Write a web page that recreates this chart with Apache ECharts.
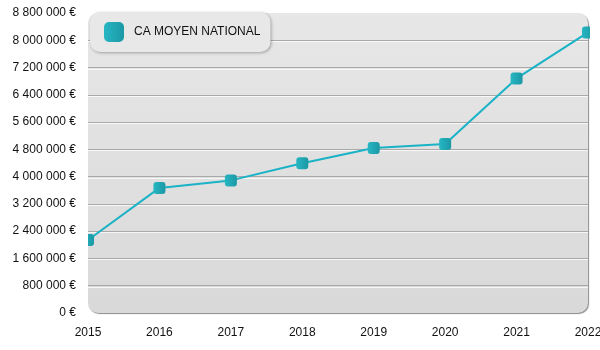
<!DOCTYPE html>
<html>
<head>
<meta charset="utf-8">
<script src="https://cdn.jsdelivr.net/npm/echarts@6/dist/echarts.min.js"></script>
<style>
  html, body { margin: 0; padding: 0; background: #ffffff; }
  #chart { width: 600px; height: 350px; }
</style>
</head>
<body>
<div id="chart"></div>
<script>
// Annual average turnover (national), in euros
const years = ['2015', '2016', '2017', '2018', '2019', '2020', '2021', '2022'];
const caMoyen = [2140000, 3670000, 3890000, 4390000, 4840000, 4960000, 6880000, 8230000];
const seriesName = 'CA MOYEN NATIONAL';

// Value axis range
const yMin = 0;
const yMax = 8800000;
const yStep = 800000;

const FONT = "'Liberation Sans', Arial, sans-serif";

function euro(v) {
  return String(v).replace(/\B(?=(\d{3})+(?!\d))/g, ' ') + ' €';
}

const markerFill = new echarts.graphic.LinearGradient(0, 0, 1, 0, [
  { offset: 0, color: '#27b6c3' },
  { offset: 1, color: '#1b98a5' }
]);

// Hide the split lines at the top and bottom edges of the plot
const tickCount = Math.round((yMax - yMin) / yStep) + 1;
const splitColors = [];
for (let i = 0; i < tickCount; i++) {
  splitColors.push(i === 0 || i === tickCount - 1 ? 'rgba(0,0,0,0)' : '#a9a9a9');
}

const chart = echarts.init(document.getElementById('chart'), null, { renderer: 'canvas' });

chart.setOption({
  animation: false,
  backgroundColor: '#ffffff',
  textStyle: { fontFamily: FONT },
  grid: { left: 88, right: 12, top: 13, bottom: 37, containLabel: false, outerBoundsMode: 'none' },
  legend: {
    left: 90,
    top: 12,
    z: 8,
    icon: 'roundRect',
    itemWidth: 20,
    itemHeight: 20,
    itemGap: 10,
    padding: [10, 10, 10, 14],
    backgroundColor: '#e8e8e8',
    borderRadius: 10,
    shadowColor: 'rgba(0,0,0,0.3)',
    shadowBlur: 3,
    shadowOffsetX: 1,
    shadowOffsetY: 1,
    textStyle: { fontFamily: FONT, fontSize: 12, color: '#111111', padding: [0, 0, 0, 5] },
    data: [seriesName]
  },
  xAxis: {
    type: 'category',
    data: years,
    boundaryGap: false,
    axisLine: { show: false },
    axisTick: { show: false },
    splitLine: { show: false },
    axisLabel: { color: '#111111', fontSize: 12, fontFamily: FONT, margin: 14 }
  },
  yAxis: {
    type: 'value',
    min: yMin,
    max: yMax,
    interval: yStep,
    axisLine: { show: false },
    axisTick: { show: false },
    axisLabel: { color: '#111111', fontSize: 12, fontFamily: FONT, margin: 12, padding: [4, 0, 0, 0], formatter: euro },
    splitLine: { show: true, lineStyle: { color: splitColors, width: 1 } }
  },
  series: [{
    name: seriesName,
    type: 'line',
    data: caMoyen,
    z: 3,
    symbol: 'roundRect',
    symbolSize: 12,
    showAllSymbol: true,
    lineStyle: { color: '#1ab2c6', width: 2 },
    itemStyle: { color: markerFill },
    emphasis: { disabled: true }
  }]
});

// Plot panel, embossed grid highlights and edge masks, placed from the axes
const xL = chart.convertToPixel({ xAxisIndex: 0 }, years[0]);
const xR = chart.convertToPixel({ xAxisIndex: 0 }, years[years.length - 1]);
const yT = chart.convertToPixel({ yAxisIndex: 0 }, yMax);
const yB = chart.convertToPixel({ yAxisIndex: 0 }, yMin);

const elements = [{
  type: 'rect',
  z: -10,
  shape: { x: xL, y: yT, width: xR - xL, height: yB - yT, r: 10 },
  style: {
    fill: new echarts.graphic.LinearGradient(0, 0, 0, 1, [
      { offset: 0, color: '#e7e7e7' },
      { offset: 1, color: '#d9d9d9' }
    ]),
    shadowColor: 'rgba(0,0,0,0.45)',
    shadowBlur: 1,
    shadowOffsetX: 1,
    shadowOffsetY: 1
  },
  silent: true
}];

for (let v = yMin + yStep; v < yMax; v += yStep) {
  const py = Math.round(chart.convertToPixel({ yAxisIndex: 0 }, v)) + 1.5;
  elements.push({
    type: 'line',
    z: 1,
    shape: { x1: xL, y1: py, x2: xR, y2: py },
    style: { stroke: 'rgba(255,255,255,0.75)', lineWidth: 1 },
    silent: true
  });
}

// Trim markers that overhang the left and right edges of the plot
elements.push({
  type: 'rect', z: 5, silent: true,
  shape: { x: xL - 9, y: yT - 2, width: 9, height: yB - yT + 4 },
  style: { fill: '#ffffff' }
});
elements.push({
  type: 'rect', z: 5, silent: true,
  shape: { x: xR + 2, y: yT - 10, width: 20, height: yB - yT + 12 },
  style: { fill: '#ffffff' }
});

chart.setOption({ graphic: { elements: elements } });
</script>
</body>
</html>
